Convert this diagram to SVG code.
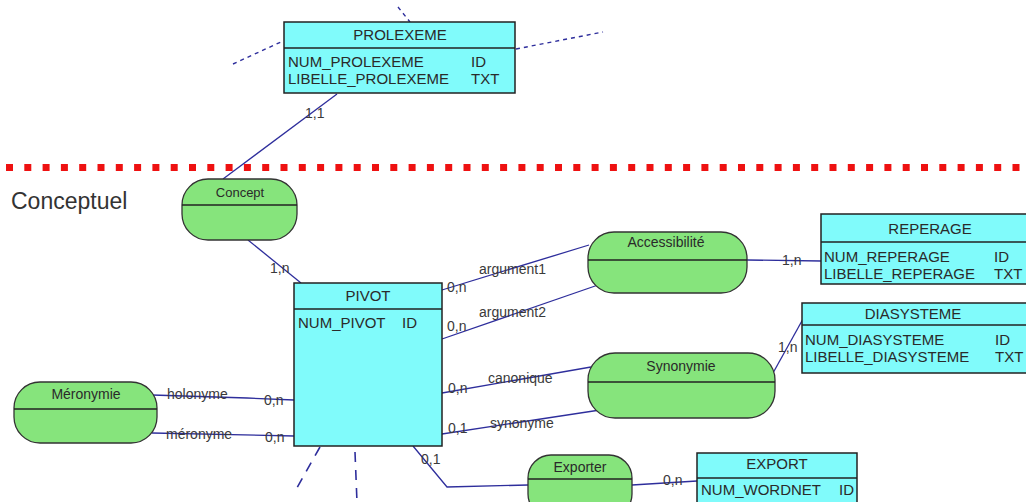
<svg xmlns="http://www.w3.org/2000/svg" width="1026" height="502" viewBox="0 0 1026 502">
<style>
.ent{fill:#80fbfb;stroke:#222;stroke-width:1.5}
.ass{fill:#86e47c;stroke:#333;stroke-width:1.3}
.sep{stroke:#222;stroke-width:1.3}
.t{font-family:"Liberation Sans",Arial,sans-serif;font-size:15px;fill:#2a2a2a}
.tc{font-family:"Liberation Sans",Arial,sans-serif;font-size:14px;fill:#2a2a2a;text-anchor:middle}
.th{font-family:"Liberation Sans",Arial,sans-serif;font-size:15px;fill:#2a2a2a;text-anchor:middle}
.lb{font-family:"Liberation Sans",Arial,sans-serif;font-size:14px;fill:#3a3a3a}
.c{fill:none;stroke:#2e2e9c;stroke-width:1.3}
.d{fill:none;stroke:#2e2e9c;stroke-width:1.4;stroke-dasharray:4 4}
.d2{fill:none;stroke:#2e2e9c;stroke-width:1.6;stroke-dasharray:10 8}
</style>
<rect width="1026" height="502" fill="#fff"/>
<line x1="6" y1="167.5" x2="1026" y2="167.5" stroke="#ee1111" stroke-width="7" stroke-dasharray="7 11.3"/>
<text x="11" y="209" font-family="Liberation Sans,Arial,sans-serif" font-size="23" fill="#333">Conceptuel</text>

<g id="connectors">
<path class="c" d="M337,94 L223,179"/>
<path class="c" d="M248,240 L301,283"/>
<path class="c" d="M442,290 L589,245"/>
<path class="c" d="M442,339 L598,285"/>
<path class="c" d="M747,260 L821,261"/>
<path class="c" d="M442,393 L591,367"/>
<path class="c" d="M442,434 L600,410"/>
<path class="c" d="M773,373 L803,319"/>
<path class="c" d="M152,395 L247,398 L294,400"/>
<path class="c" d="M152,433 L294,436"/>
<path class="c" d="M413,446 L447,487 L528,485"/>
<path class="c" d="M632,485 L697,481"/>
<path class="d" d="M233,64 L283,41"/>
<path class="d" d="M516,49 L603,32"/>
<path class="d" d="M398,7 L410,22"/>
<path class="d2" d="M320,447 L294,493"/>
<path class="d2" d="M355,452 L357,502"/>
<text class="lb" x="305" y="118">1,1</text>
<text class="lb" x="270" y="273">1,n</text>
<text class="lb" x="447" y="292">0,n</text>
<text class="lb" x="479" y="274">argument1</text>
<text class="lb" x="447" y="331">0,n</text>
<text class="lb" x="479" y="317">argument2</text>
<text class="lb" x="782" y="265">1,n</text>
<text class="lb" x="778" y="352">1,n</text>
<text class="lb" x="448" y="393">0,n</text>
<text class="lb" x="488" y="383">canonique</text>
<text class="lb" x="448" y="433">0,1</text>
<text class="lb" x="490" y="428">synonyme</text>
<text class="lb" x="167" y="399">holonyme</text>
<text class="lb" x="264" y="405">0,n</text>
<text class="lb" x="166" y="439">méronyme</text>
<text class="lb" x="265" y="442">0,n</text>
<text class="lb" x="421" y="464">0,1</text>
<text class="lb" x="663" y="485">0,n</text>
</g>

<g id="prolexeme">
<rect class="ent" x="284" y="22" width="231" height="71"/>
<line class="sep" x1="284" y1="48" x2="515" y2="48"/>
<text class="th" x="400" y="40">PROLEXEME</text>
<text class="t" x="288" y="67">NUM_PROLEXEME</text>
<text class="t" x="471" y="67">ID</text>
<text class="t" x="288" y="84">LIBELLE_PROLEXEME</text>
<text class="t" x="471" y="84">TXT</text>
</g>

<g id="pivot">
<rect class="ent" x="294" y="283" width="148" height="163"/>
<line class="sep" x1="294" y1="309" x2="442" y2="309"/>
<text class="th" x="368" y="301">PIVOT</text>
<text class="t" x="298" y="328">NUM_PIVOT</text>
<text class="t" x="402" y="328">ID</text>
</g>

<g id="reperage">
<rect class="ent" x="821" y="214" width="215" height="70"/>
<line class="sep" x1="821" y1="242" x2="1036" y2="242"/>
<text class="th" x="930" y="234">REPERAGE</text>
<text class="t" x="824" y="262">NUM_REPERAGE</text>
<text class="t" x="994" y="262">ID</text>
<text class="t" x="824" y="279">LIBELLE_REPERAGE</text>
<text class="t" x="994" y="279">TXT</text>
</g>

<g id="diasysteme">
<rect class="ent" x="802" y="303" width="232" height="70"/>
<line class="sep" x1="802" y1="325" x2="1034" y2="325"/>
<text class="th" x="913" y="319">DIASYSTEME</text>
<text class="t" x="805" y="345">NUM_DIASYSTEME</text>
<text class="t" x="995" y="345">ID</text>
<text class="t" x="805" y="362">LIBELLE_DIASYSTEME</text>
<text class="t" x="995" y="362">TXT</text>
</g>

<g id="export">
<rect class="ent" x="697" y="453" width="160" height="60"/>
<line class="sep" x1="697" y1="478" x2="857" y2="478"/>
<text class="th" x="777" y="469">EXPORT</text>
<text class="t" x="701" y="495">NUM_WORDNET</text>
<text class="t" x="839" y="495">ID</text>
</g>

<g id="concept">
<rect class="ass" x="182" y="179" width="115" height="61" rx="26" ry="26"/>
<line class="sep" x1="182" y1="205" x2="297" y2="205"/>
<text class="tc" x="240" y="197" style="font-size:13px">Concept</text>
</g>

<g id="accessibilite">
<rect class="ass" x="588" y="232" width="159" height="61" rx="26" ry="26"/>
<line class="sep" x1="588" y1="260" x2="747" y2="260"/>
<text class="tc" x="666" y="247">Accessibilité</text>
</g>

<g id="synonymie">
<rect class="ass" x="588" y="353" width="187" height="65" rx="27" ry="27"/>
<line class="sep" x1="588" y1="382" x2="775" y2="382"/>
<text class="tc" x="681" y="371">Synonymie</text>
</g>

<g id="meronymie">
<rect class="ass" x="14" y="382" width="143" height="61" rx="26" ry="26"/>
<line class="sep" x1="14" y1="409" x2="157" y2="409"/>
<text class="tc" x="86" y="399">Méronymie</text>
</g>

<g id="exporter">
<rect class="ass" x="528" y="455" width="104" height="62" rx="23" ry="23"/>
<line class="sep" x1="528" y1="479" x2="632" y2="479"/>
<text class="tc" x="580" y="472">Exporter</text>
</g>
</svg>
